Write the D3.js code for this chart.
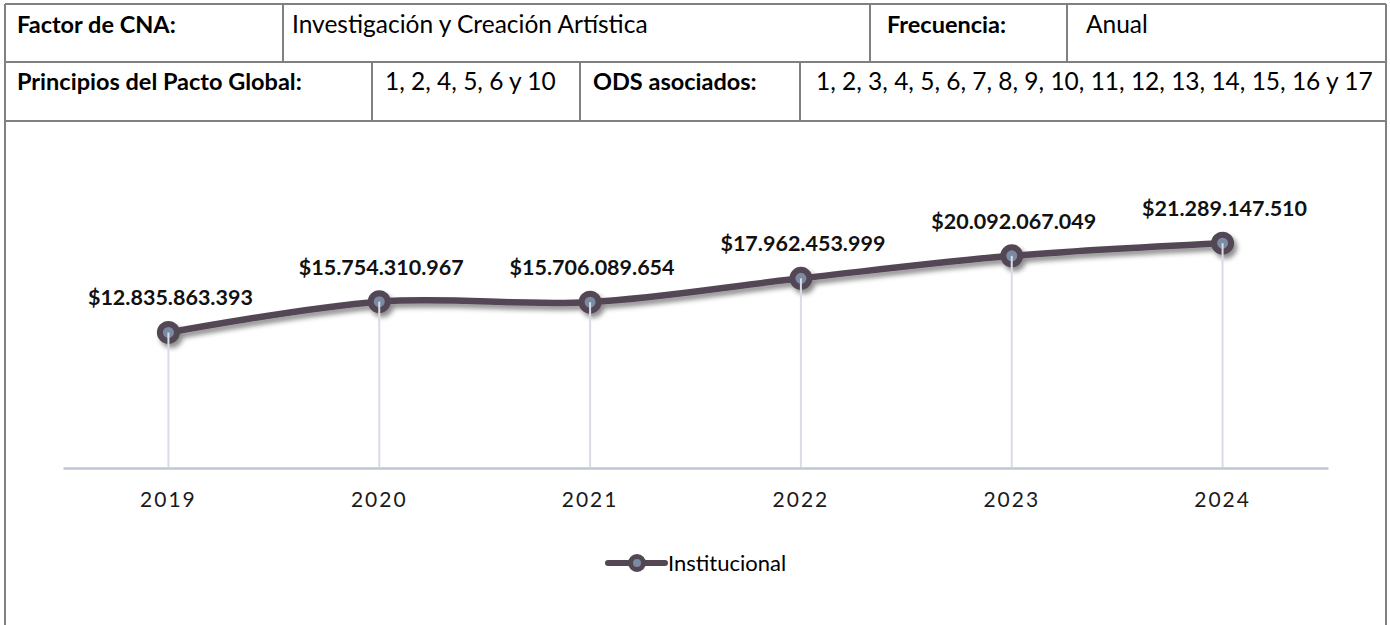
<!DOCTYPE html>
<html>
<head>
<meta charset="utf-8">
<script src="https://cdn.jsdelivr.net/npm/d3@7"></script>
<style>
  body { margin: 0; background: #ffffff; }
  svg { display: block; font-family: Lato, "Open Sans", sans-serif; }
</style>
</head>
<body>
<svg id="chart" width="1390" height="625"></svg>
<script>
// ---- data ----
const years = ["2019", "2020", "2021", "2022", "2023", "2024"];
const values = [12835863393, 15754310967, 15706089654, 17962453999, 20092067049, 21289147510];
const seriesName = "Institucional";

const row1Texts = ["Factor de CNA:", "Investigación y Creación Artística", "Frecuencia:", "Anual"];
const row1Bold = [true, false, true, false];
const row2Texts = ["Principios del Pacto Global:", "1, 2, 4, 5, 6 y 10", "ODS asociados:", "1, 2, 3, 4, 5, 6, 7, 8, 9, 10, 11, 12, 13, 14, 15, 16 y 17"];
const row2Bold = [true, false, true, false];

// ---- layout ----
const W = 1390, H = 625;
const svg = d3.select("#chart");
const borderColor = "#808080";
const lineColor = "#534754";
const markerFill = "#7a8aa3";

// Header table
const tbl = svg.append("g").attr("class", "header-table");
const tblTop = 4, row1Bottom = 62, row2Bottom = 121, tblLeft = 5, tblRight = 1386;
const row1Edges = [tblLeft, 283, 870, 1067, tblRight];
const row2Edges = [tblLeft, 372, 580, 800, tblRight];
const row1TextX = [17, 292, 887, 1086];
const row2TextX = [17, 385, 593, 816];

// partially visible heading above the table (only its descender shows)
svg.append("text").attr("x", 377).attr("y", -4)
  .attr("font-size", 24).attr("font-weight", 700).text("y");

const hLines = [
  [tblLeft, tblRight, tblTop], [tblLeft, tblRight, row1Bottom], [tblLeft, tblRight, row2Bottom]
];
tbl.selectAll("line.h").data(hLines).join("line").attr("class", "h")
  .attr("x1", d => d[0]).attr("x2", d => d[1]).attr("y1", d => d[2]).attr("y2", d => d[2])
  .attr("stroke", borderColor).attr("stroke-width", 2);

const vLines = [];
row1Edges.forEach(x => vLines.push([x, tblTop, row1Bottom]));
row2Edges.forEach(x => vLines.push([x, row1Bottom, row2Bottom]));
vLines.push([tblLeft, row2Bottom, H], [tblRight, row2Bottom, H]);
tbl.selectAll("line.v").data(vLines).join("line").attr("class", "v")
  .attr("x1", d => d[0]).attr("x2", d => d[0]).attr("y1", d => d[1]).attr("y2", d => d[2])
  .attr("stroke", borderColor).attr("stroke-width", 2);

function cellTexts(texts, bold, xs, baseline) {
  tbl.selectAll(null).data(texts).join("text")
    .attr("x", (d, i) => xs[i])
    .attr("y", baseline)
    .attr("font-size", (d, i) => bold[i] ? 23.5 : 24.5)
    .attr("font-weight", (d, i) => bold[i] ? 700 : 400)
    .attr("fill", "#000")
    .text(d => d);
}
cellTexts(row1Texts, row1Bold, row1TextX, 33);
cellTexts(row2Texts, row2Bold, row2TextX, 90);

// ---- chart ----
const x = d3.scaleBand().domain(years).range([63, 1328]).padding(0);
const y = d3.scaleLinear().domain([0, 25e9]).range([468, 204]);
const cx = d => x(d) + x.bandwidth() / 2;

const defs = svg.append("defs");
const shadow = defs.append("filter").attr("id", "soft-shadow")
  .attr("x", "-20%").attr("y", "-20%").attr("width", "140%").attr("height", "160%");
shadow.append("feDropShadow").attr("dx", 3).attr("dy", 4).attr("stdDeviation", 2.5)
  .attr("flood-color", "#000").attr("flood-opacity", 0.45);

const pts = years.map((yr, i) => ({ yr, v: values[i] }));

// category axis
const axisG = svg.append("g").attr("transform", `translate(0,${y(0)})`)
  .call(d3.axisBottom(x).tickSize(0).tickSizeOuter(0));
axisG.select(".domain").attr("stroke", "#bfc6d4").attr("stroke-width", 2.5);
axisG.selectAll(".tick text")
  .attr("y", 39).attr("dy", 0)
  .attr("font-family", "Lato, sans-serif")
  .attr("font-size", 21)
  .attr("letter-spacing", 2)
  .attr("fill", "#1a1a1a");

// smoothed series line with markers
const lineGen = d3.line().x(d => cx(d.yr)).y(d => y(d.v)).curve(d3.curveCatmullRom.alpha(0));
const series = svg.append("g").attr("filter", "url(#soft-shadow)");
series.append("path").datum(pts)
  .attr("d", lineGen).attr("fill", "none")
  .attr("stroke", lineColor).attr("stroke-width", 6.5).attr("stroke-linecap", "round");
series.selectAll("circle").data(pts).join("circle")
  .attr("cx", d => cx(d.yr)).attr("cy", d => y(d.v)).attr("r", 8.5)
  .attr("fill", markerFill).attr("stroke", lineColor).attr("stroke-width", 6);

// drop lines from each point down to the axis
svg.append("g").selectAll("line").data(pts).join("line")
  .attr("x1", d => cx(d.yr)).attr("x2", d => cx(d.yr))
  .attr("y1", d => y(d.v)).attr("y2", y(0) - 1)
  .attr("stroke", "#d9dce5").attr("stroke-width", 2);

// value labels
const loc = d3.formatLocale({ decimal: ",", thousands: ".", grouping: [3], currency: ["$", ""] });
const fmt = loc.format("$,.0f");
svg.append("g").selectAll("text").data(pts).join("text")
  .attr("x", d => cx(d.yr) + 2).attr("y", d => y(d.v) - 27)
  .attr("text-anchor", "middle")
  .attr("font-size", 21.5).attr("font-weight", 700).attr("fill", "#111")
  .text(d => fmt(d.v));

// legend
const lg = svg.append("g").attr("transform", "translate(637,563)");
lg.append("line").attr("x1", -29).attr("x2", 28).attr("y1", 0).attr("y2", 0)
  .attr("stroke", lineColor).attr("stroke-width", 6).attr("stroke-linecap", "round");
lg.append("circle").attr("r", 6.5).attr("fill", markerFill).attr("stroke", lineColor).attr("stroke-width", 5);
lg.append("text").attr("x", 31).attr("y", 8).attr("font-size", 22).attr("fill", "#000").text(seriesName);
</script>
</body>
</html>
